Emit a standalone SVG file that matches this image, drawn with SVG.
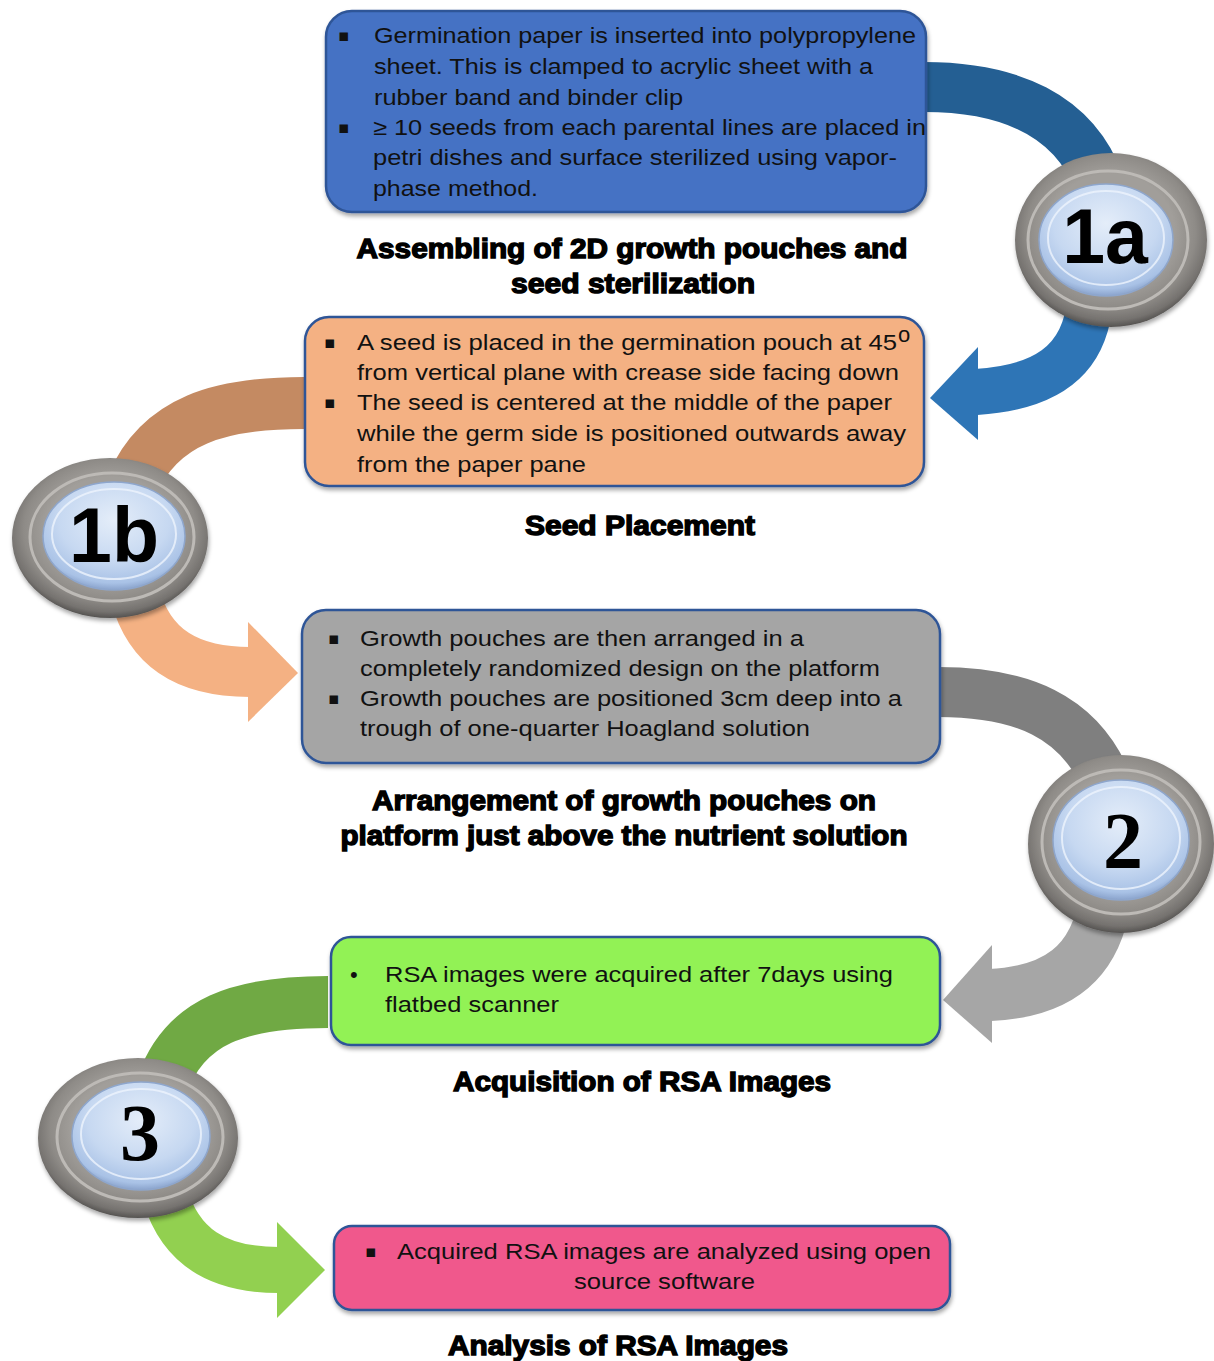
<svg xmlns="http://www.w3.org/2000/svg" width="1214" height="1361" viewBox="0 0 1214 1361">
<defs>
<radialGradient id="ringG" cx="0.5" cy="0.45" r="0.55">
<stop offset="0.6" stop-color="#a19e9a"/>
<stop offset="0.8" stop-color="#8e8b87"/>
<stop offset="0.93" stop-color="#75726f"/>
<stop offset="1" stop-color="#555351"/>
</radialGradient>
<radialGradient id="blueG" cx="0.5" cy="0.35" r="0.65">
<stop offset="0" stop-color="#e4edf9"/>
<stop offset="0.6" stop-color="#c6d8f1"/>
<stop offset="0.9" stop-color="#a9c2e6"/>
<stop offset="1" stop-color="#8aa3cc"/>
</radialGradient>
<filter id="sh" x="-10%" y="-10%" width="120%" height="130%">
<feDropShadow dx="1" dy="3" stdDeviation="2" flood-color="#000" flood-opacity="0.35"/>
</filter>
</defs>
<style>
.box{stroke:#2F5597;stroke-width:2.5}
.t{font-family:"Liberation Sans",Arial,sans-serif;font-size:22px;fill:#111}
.b{font-family:"DejaVu Sans","Liberation Sans",sans-serif;font-size:17px;fill:#111}
.h{font-family:"Liberation Sans",Arial,sans-serif;font-size:28px;font-weight:bold;fill:#000;stroke:#000;stroke-width:1.4;text-anchor:middle}
.arc{fill:none;stroke-linecap:butt}
.ring{fill:url(#ringG)}
.groove{fill:none;stroke:#bdbab6;stroke-width:3}
.inner{fill:url(#blueG);stroke:#8ea6cc;stroke-width:1.5}
.hl{fill:none;stroke:#eef4fc;stroke-width:2;opacity:0.8}
.num{font-family:"Liberation Sans",Arial,sans-serif;font-weight:bold;font-size:77px;fill:#000;text-anchor:middle}
.numS{font-family:"Liberation Serif","Times New Roman",serif;font-weight:bold;font-size:80px;fill:#000;text-anchor:middle}
</style>

<g id="connectors">
<path class="arc" d="M 924 87 C 1010 87, 1075 115, 1100 185" stroke="#245F93" stroke-width="50"/>
<path class="arc" d="M 1090 300 C 1085 365, 1040 388, 976 392" stroke="#2E75B6" stroke-width="46"/>
<polygon points="978,347 930,398 978,440" fill="#2E75B6"/>

<path class="arc" d="M 304 403 C 220 403, 160 420, 132 485" stroke="#C48A62" stroke-width="52"/>
<path class="arc" d="M 135 595 C 150 650, 190 672, 250 672" stroke="#F4B183" stroke-width="50"/>
<polygon points="248,622 298,673 248,722" fill="#F4B183"/>

<path class="arc" d="M 938 692 C 1020 692, 1080 715, 1108 785" stroke="#7F7F7F" stroke-width="50"/>
<path class="arc" d="M 1105 900 C 1095 965, 1055 992, 990 995" stroke="#A6A6A6" stroke-width="52"/>
<polygon points="992,945 943,1000 992,1043" fill="#A6A6A6"/>

<path class="arc" d="M 328 1002 C 240 1002, 185 1020, 162 1085" stroke="#70A944" stroke-width="52"/>
<path class="arc" d="M 165 1195 C 180 1245, 215 1270, 279 1270" stroke="#92D050" stroke-width="46"/>
<polygon points="277,1222 325,1270 277,1318" fill="#92D050"/>
</g>

<g id="step1a">
<rect class="box" x="326" y="11" width="600" height="201" rx="26" fill="#4472C4" stroke="#2F528F" filter="url(#sh)"/>
<text class="b" x="338" y="41">▪</text>
<text class="t" x="374" y="43" textLength="542" lengthAdjust="spacingAndGlyphs">Germination paper is inserted into polypropylene</text>
<text class="t" x="374" y="74" textLength="499" lengthAdjust="spacingAndGlyphs">sheet. This is clamped  to acrylic sheet with a</text>
<text class="t" x="374" y="105" textLength="309" lengthAdjust="spacingAndGlyphs">rubber band and binder clip</text>
<text class="b" x="338" y="133">▪</text>
<text class="t" x="373" y="135" textLength="553" lengthAdjust="spacingAndGlyphs">≥ 10 seeds from each parental lines are placed in</text>
<text class="t" x="373" y="165" textLength="524" lengthAdjust="spacingAndGlyphs">petri dishes and surface sterilized using vapor-</text>
<text class="t" x="373" y="196" textLength="165" lengthAdjust="spacingAndGlyphs">phase method.</text>
<text class="h" x="632" y="258" textLength="551" lengthAdjust="spacingAndGlyphs">Assembling of 2D growth pouches and</text>
<text class="h" x="633" y="293" textLength="244" lengthAdjust="spacingAndGlyphs">seed sterilization</text>
</g>

<g id="circle1a">
<ellipse class="ring" cx="1111" cy="240" rx="96" ry="87" filter="url(#sh)"/>
<ellipse class="groove" cx="1108" cy="240" rx="80" ry="69"/>
<ellipse class="inner" cx="1106" cy="240" rx="67" ry="56"/>
<ellipse class="hl" cx="1106" cy="238" rx="58" ry="47"/>
<text class="num" x="1105" y="263">1a</text>
</g>

<g id="step1b">
<rect class="box" x="305" y="317" width="619" height="169" rx="24" fill="#F4B183" filter="url(#sh)"/>
<text class="b" x="324" y="348">▪</text>
<text class="t" x="357" y="350" textLength="540" lengthAdjust="spacingAndGlyphs">A seed is placed in the germination pouch at 45</text>
<text class="t" x="898" y="342" font-size="14">o</text>
<text class="t" x="357" y="380" textLength="542" lengthAdjust="spacingAndGlyphs">from vertical plane with crease side facing down</text>
<text class="b" x="324" y="408">▪</text>
<text class="t" x="357" y="410" textLength="535" lengthAdjust="spacingAndGlyphs">The seed is centered at the middle  of the paper</text>
<text class="t" x="357" y="441" textLength="549" lengthAdjust="spacingAndGlyphs">while the germ side is positioned outwards away</text>
<text class="t" x="357" y="472" textLength="229" lengthAdjust="spacingAndGlyphs">from the paper pane</text>
<text class="h" x="640" y="535" textLength="230" lengthAdjust="spacingAndGlyphs">Seed Placement</text>
</g>

<g id="circle1b">
<ellipse class="ring" cx="110" cy="538" rx="98" ry="80" filter="url(#sh)"/>
<ellipse class="groove" cx="112" cy="537" rx="82" ry="64"/>
<ellipse class="inner" cx="114" cy="536" rx="71" ry="54"/>
<ellipse class="hl" cx="114" cy="534" rx="62" ry="45"/>
<text class="num" x="114" y="562">1b</text>
</g>

<g id="step2">
<rect class="box" x="302" y="610" width="638" height="153" rx="24" fill="#A5A5A5" filter="url(#sh)"/>
<text class="b" x="328" y="644">▪</text>
<text class="t" x="360" y="646" textLength="444" lengthAdjust="spacingAndGlyphs">Growth pouches are then arranged in a</text>
<text class="t" x="360" y="676" textLength="520" lengthAdjust="spacingAndGlyphs">completely  randomized  design on the platform</text>
<text class="b" x="328" y="704">▪</text>
<text class="t" x="360" y="706" textLength="542" lengthAdjust="spacingAndGlyphs">Growth pouches are positioned 3cm deep into a</text>
<text class="t" x="360" y="736" textLength="450" lengthAdjust="spacingAndGlyphs">trough  of one-quarter Hoagland  solution</text>
<text class="h" x="624" y="810" textLength="504" lengthAdjust="spacingAndGlyphs">Arrangement of growth pouches on</text>
<text class="h" x="624" y="845" textLength="567" lengthAdjust="spacingAndGlyphs">platform just above the nutrient solution</text>
</g>

<g id="circle2">
<ellipse class="ring" cx="1121" cy="844" rx="93" ry="89" filter="url(#sh)"/>
<ellipse class="groove" cx="1121" cy="842" rx="79" ry="72"/>
<ellipse class="inner" cx="1121" cy="840" rx="68" ry="60"/>
<ellipse class="hl" cx="1121" cy="838" rx="59" ry="51"/>
<text class="numS" x="1123" y="868">2</text>
</g>

<g id="step3">
<rect class="box" x="331" y="937" width="609" height="108" rx="20" fill="#92F254" filter="url(#sh)"/>
<text class="t" x="350" y="982">•</text>
<text class="t" x="385" y="982" textLength="508" lengthAdjust="spacingAndGlyphs">RSA images were acquired after 7days using</text>
<text class="t" x="385" y="1012" textLength="174" lengthAdjust="spacingAndGlyphs">flatbed scanner</text>
<text class="h" x="642" y="1091" textLength="378" lengthAdjust="spacingAndGlyphs">Acquisition of RSA Images</text>
</g>

<g id="circle3">
<ellipse class="ring" cx="138" cy="1138" rx="100" ry="80" filter="url(#sh)"/>
<ellipse class="groove" cx="140" cy="1137" rx="83" ry="64"/>
<ellipse class="inner" cx="141" cy="1136" rx="69" ry="54"/>
<ellipse class="hl" cx="141" cy="1134" rx="60" ry="45"/>
<text class="numS" x="140" y="1160">3</text>
</g>

<g id="step4">
<rect class="box" x="334" y="1226" width="616" height="84" rx="18" fill="#F0598C" filter="url(#sh)"/>
<text class="b" x="365" y="1257">▪</text>
<text class="t" x="397" y="1259" textLength="534" lengthAdjust="spacingAndGlyphs">Acquired RSA images are analyzed using open</text>
<text class="t" x="574" y="1289" textLength="181" lengthAdjust="spacingAndGlyphs">source software</text>
<text class="h" x="618" y="1355" textLength="340" lengthAdjust="spacingAndGlyphs">Analysis of RSA Images</text>
</g>
</svg>
